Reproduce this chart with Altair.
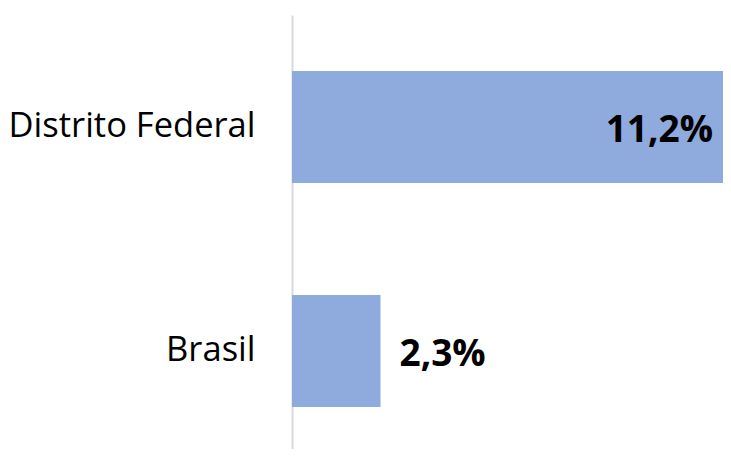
import altair as alt
import pandas as pd

categories = ["Distrito Federal", "Brasil"]
values = [11.2, 2.3]
labels = ["11,2%", "2,3%"]

df = pd.DataFrame({"cat": categories, "value": values, "label": labels})

FONT = "Open Sans"
BAR = "#8FAADC"

y_enc = alt.Y(
    "cat:N",
    sort=categories,
    scale=alt.Scale(paddingInner=0.5, paddingOuter=0.21875, align=0.571),
    axis=alt.Axis(
        title=None, ticks=False, labelFont=FONT, labelFontSize=34.5,
        labelColor="#000000", labelPadding=37, domainColor="#D9D9D9",
        domainWidth=2, labelLimit=400,
    ),
)
x_scale = alt.Scale(domain=[0, 11.2], nice=False, zero=True)

base = alt.Chart(df)

bars = base.mark_bar(color=BAR).encode(
    y=y_enc,
    x=alt.X("value:Q", scale=x_scale, axis=None),
)

inside = base.transform_filter("datum.value > 5").mark_text(
    align="right", baseline="middle", dx=-10, dy=4, font=FONT,
    fontSize=37, fontWeight="bold", color="#000000",
).encode(y=alt.Y("cat:N", sort=categories), x=alt.X("value:Q", scale=x_scale), text="label:N")

outside = base.transform_filter("datum.value <= 5").mark_text(
    align="left", baseline="middle", dx=19, dy=4, font=FONT,
    fontSize=37, fontWeight="bold", color="#000000",
).encode(y=alt.Y("cat:N", sort=categories), x=alt.X("value:Q", scale=x_scale), text="label:N")

chart = (bars + inside + outside).properties(
    width=431, height=434,
    autosize=alt.AutoSizeParams(type="none"),
    padding={"left": 284, "top": 7, "right": 0, "bottom": 0},
).configure_view(stroke=None).configure_axis(grid=False)

chart.save("out.html", embed_options={"renderer": "svg", "actions": False})
